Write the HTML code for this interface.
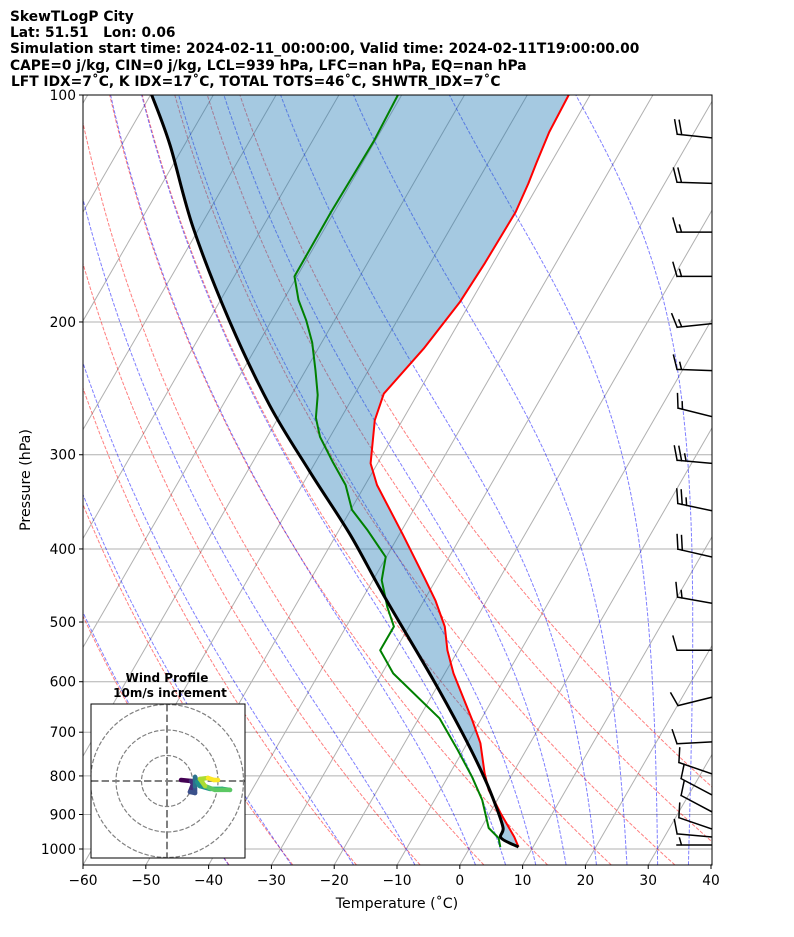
<!DOCTYPE html>
<html><head><meta charset="utf-8"><style>
body{margin:0;background:#fff;}
svg{display:block;font-family:"DejaVu Sans","Liberation Sans",sans-serif;}
</style></head><body>
<svg id="chart" xmlns="http://www.w3.org/2000/svg" width="794" height="937" viewBox="0 0 794 937">
<rect width="794" height="937" fill="#fff"/>
<g font-weight="bold" font-size="13.8" fill="#000">
<text x="10" y="21">SkewTLogP City</text>
<text x="10" y="37" xml:space="preserve">Lat: 51.51   Lon: 0.06</text>
<text x="10" y="53">Simulation start time: 2024-02-11_00:00:00, Valid time: 2024-02-11T19:00:00.00</text>
<text x="10" y="70">CAPE=0 j/kg, CIN=0 j/kg, LCL=939 hPa, LFC=nan hPa, EQ=nan hPa</text>
<text x="11" y="86">LFT IDX=7˚C, K IDX=17˚C, TOTAL TOTS=46˚C, SHWTR_IDX=7˚C</text>
</g>
<defs><clipPath id="pc"><rect x="83" y="95" width="629" height="770"/></clipPath>
<clipPath id="hc"><rect x="91" y="704" width="154" height="154"/></clipPath></defs>
<g id="plot" clip-path="url(#pc)"></g>
<g id="axes"></g>
<g id="hodo"></g>
</svg>
<script>
// ---- data ----
const tempP = [100,112,123,131,143,167,188,217,249,270,308,329,383,437,468,507,545,585,675,724,793,835,896,964,994];
const tempT = [-53.4,-53.1,-52.3,-51.7,-51.1,-51.3,-51.7,-53.2,-55.4,-54.4,-51.1,-48.1,-39.4,-32.0,-28.2,-24.3,-21.7,-18.6,-11.3,-7.9,-4.5,-2.3,1.7,6.1,7.7];
const dewP = [100,115,143,174,187,199,213,232,250,268,284,307,329,355,378,410,440,478,507,545,585,671,739,803,861,938,967,994];
const dewT = [-80.6,-80.2,-80.5,-80.4,-77.6,-74.5,-71.5,-68.4,-65.8,-64.0,-61.6,-57.2,-53.1,-49.8,-45.4,-40.1,-38.6,-35.2,-32.4,-32.4,-28.2,-16.7,-10.9,-6.1,-2.4,1.2,3.7,4.8];
const parcelP = [100,116.5,150,200,258,316,383,460,591,702,803,880,938,967,994];
const parcelT = [-119.8,-112.3,-101,-86.5,-72.5,-60,-47.8,-37,-21.8,-11.7,-4.2,0.5,3.5,4.1,7.7];
const barbP = [114,131,152,174,201,232,267,308,356,410,472,545,629,721,795,848,893,941,964,988];
const barbDir = [276,272,270,270,264,272,284,275,282,283,280,270,256,267,289,298,298,289,275,270];
const barbSpd = [20,20,15,15,15,15,15,25,25,20,15,10,10,10,10,10,10,10,10,5];
const hodoU = [5.5,9.4,10.2,9.0,11.0,11.0,11.0,11.8,12.9,16.9,21.6,24.7,18.8,14.9,12.9,16.1,18.4,20.0];
const hodoV = [0.4,0,-1.2,-4.3,-4.7,-2.0,1.6,-0.4,-2.0,-3.1,-3.1,-3.5,-3.5,-2.0,0.8,1.2,0.4,0.4];
const pTicks = [100,200,300,400,500,600,700,800,900,1000];
const tTicks = [-60,-50,-40,-30,-20,-10,0,10,20,30,40];
const dryT0 = [-40,-30,-20,-10,0,10,20,30,40,50];
const moistT0 = [-40,-30,-20,-10,0,5,10,15,20,25,30,35];

// ---- axes ----
const L=83,R=712,T=95,B=865;
function yOf(p){return 95+754*Math.log10(p/100);}
function xOf(t,p){return L+(t+60)*6.28+0.577*(B-yOf(p));}
const NS='http://www.w3.org/2000/svg';
function mk(tag,attrs,parent){const e=document.createElementNS(NS,tag);for(const k in attrs)e.setAttribute(k,attrs[k]);parent.appendChild(e);return e;}
const plot=document.getElementById('plot'),axes=document.getElementById('axes'),hodo=document.getElementById('hodo');
function pathPT(ps,ts){return ps.map((p,i)=>(i?'L':'M')+xOf(ts[i],p).toFixed(1)+','+yOf(p).toFixed(1)).join('');}
function smoothPT(ps,ts){
 const pts=ps.map((p,i)=>[xOf(ts[i],p),yOf(p)]);
 let d='M'+pts[0][0].toFixed(1)+','+pts[0][1].toFixed(1);
 for(let i=0;i<pts.length-1;i++){
  const p0=pts[Math.max(0,i-1)],p1=pts[i],p2=pts[i+1],p3=pts[Math.min(pts.length-1,i+2)];
  const c1=[p1[0]+(p2[0]-p0[0])/6,p1[1]+(p2[1]-p0[1])/6],c2=[p2[0]-(p3[0]-p1[0])/6,p2[1]-(p3[1]-p1[1])/6];
  d+='C'+c1[0].toFixed(1)+','+c1[1].toFixed(1)+' '+c2[0].toFixed(1)+','+c2[1].toFixed(1)+' '+p2[0].toFixed(1)+','+p2[1].toFixed(1);
 }
 return d;
}

for(let t=-200;t<=40;t+=10){
 const e=mk('line',{x1:xOf(t,1050),y1:B,x2:xOf(t,100),y2:T,stroke:'#b0b0b0','stroke-width':1},plot);
 
 
}
pTicks.forEach(p=>{
 const e=mk('line',{x1:L,x2:R,y1:yOf(p),y2:yOf(p),stroke:'#b0b0b0','stroke-width':1},plot);
 
 
});
const plev=[];for(let p=1050;p>=100;p-=5)plev.push(p);
dryT0.forEach(t0=>{
 const th=t0+273.15;
 const ts=plev.map(p=>th*Math.pow(p/1000,0.2857)-273.15);
 const e=mk('path',{d:pathPT(plev,ts),fill:'none',stroke:'red','stroke-opacity':0.5,'stroke-width':1,'stroke-dasharray':'3.7,1.6'},plot);
 
 
});
function dTdp(p,Tk){const tc=Tk-273.15;const es=6.112*Math.exp(17.67*tc/(tc+243.5));const rs=0.622*es/(p-es);
 return (287.04*Tk+2.501e6*rs)/(1005.7+2.501e6*2.501e6*rs*0.622/(287.04*Tk*Tk))/p;}
moistT0.forEach(t0=>{
 const ps=[],ts=[];
 let Tk=t0+273.15;
 let T2=Tk;for(let p=1000;p<1050;p+=5){const k1=dTdp(p,T2);const k2=dTdp(p+5,T2+5*k1);T2+=2.5*(k1+k2);}
 ps.push(1050);ts.push(T2-273.15);
 for(let p=1050;p>1000;p-=5){const k1=dTdp(p,T2);const k2=dTdp(p-5,T2-5*k1);T2-=2.5*(k1+k2);ps.push(p-5);ts.push(T2-273.15);}
 T2=Tk;
 for(let p=1000;p>100;p-=5){const k1=dTdp(p,T2);const k2=dTdp(p-5,T2-5*k1);T2-=2.5*(k1+k2);ps.push(p-5);ts.push(T2-273.15);}
 const e=mk('path',{d:pathPT(ps,ts),fill:'none',stroke:'blue','stroke-opacity':0.5,'stroke-width':1,'stroke-dasharray':'3.7,1.6'},plot);
 
 
});
{
 const rp=parcelP.slice().reverse(),rt=parcelT.slice().reverse();
 const d=pathPT(tempP,tempT)+smoothPT(rp,rt).replace(/^M/,'L')+'Z';
 const e=mk('path',{d:d,fill:'#1f77b4','fill-opacity':0.4,stroke:'none'},plot);
 
 
}
{
 let e=mk('path',{d:pathPT(tempP,tempT),fill:'none',stroke:'red','stroke-width':2,'stroke-linejoin':'round'},plot);
 
 
 e=mk('path',{d:pathPT(dewP,dewT),fill:'none',stroke:'green','stroke-width':2,'stroke-linejoin':'round'},plot);
 
 
 e=mk('path',{d:smoothPT(parcelP,parcelT),fill:'none',stroke:'black','stroke-width':3,'stroke-linejoin':'round'},plot);
 
 
}
barbP.forEach((p,i)=>{
 const g=mk('g',{stroke:'#000','stroke-width':1.5,fill:'none','stroke-linecap':'square'},plot);
 
 
 const d=barbDir[i]*Math.PI/180, Ls=35;
 const ax=Math.sin(d), ay=-Math.cos(d);
 const x0=R,y0=yOf(p),x1=x0+ax*Ls,y1=y0+ay*Ls;
 const px=-ay, py=ax;
 let dd='M'+x0+','+y0.toFixed(1)+'L'+x1.toFixed(1)+','+y1.toFixed(1);
 let s=barbSpd[i],pos=0;
 const nf=Math.floor(s/10),nh=(s%10)>=5?1:0;
 if(nf===0)pos=1;
 for(let k=0;k<nf+nh;k++){
  const len=k<nf?14:7;
  const bx=x1-ax*pos*4.5,by=y1-ay*pos*4.5;
  const fx=len===14?1:0.5;
  dd+='M'+bx.toFixed(1)+','+by.toFixed(1)+'L'+(bx+px*len+ax*4*fx).toFixed(1)+','+(by+py*len+ay*4*fx).toFixed(1);
  pos++;
 }
 const e=mk('path',{d:dd},g);
 
 
});
{
 let e=mk('rect',{x:L,y:T,width:R-L,height:B-T,fill:'none',stroke:'#000','stroke-width':1},axes);
 
 
 pTicks.forEach(p=>{
  const y=yOf(p);
  let t=mk('line',{x1:L-4,x2:L,y1:y,y2:y,stroke:'#000'},axes);
  
  
  t=mk('text',{x:L-7,y:y+5,'text-anchor':'end','font-size':13.8},axes);
  t.textContent=p;
  
  
 });
 tTicks.forEach(tc=>{
  const x=xOf(tc,1050);
  let t=mk('line',{x1:x,x2:x,y1:B,y2:B+4,stroke:'#000'},axes);
  
  
  t=mk('text',{x:x,y:B+20,'text-anchor':'middle','font-size':13.8},axes);
  t.textContent=(tc<0?'\u2212'+(-tc):tc);
  
  
 });
 let t=mk('text',{x:397,y:908,'text-anchor':'middle','font-size':14.2},axes);
 t.textContent='Temperature (˚C)';
 
 
 t=mk('text',{x:30,y:480,'text-anchor':'middle','font-size':14.2,transform:'rotate(-90 30 480)'},axes);
 t.textContent='Pressure (hPa)';
 
 
}
{
 const cx=167,cy=781,sc=2.55;
 let e=mk('rect',{x:91,y:704,width:154,height:154,fill:'#fff',stroke:'none'},hodo);
 
 
 const gi=mk('g',{'clip-path':'url(#hc)'},hodo);
 
 
 [10,20,30].forEach(r=>{
  const c=mk('circle',{cx:cx,cy:cy,r:r*sc,fill:'none',stroke:'#808080','stroke-width':1.2,'stroke-dasharray':'4.4,1.9'},gi);
  
  
 });
 e=mk('line',{x1:91,x2:245,y1:cy,y2:cy,stroke:'#808080','stroke-width':2,'stroke-dasharray':'7.4,3.2'},gi);
 
 
 e=mk('line',{x1:cx,x2:cx,y1:704,y2:858,stroke:'#808080','stroke-width':2,'stroke-dasharray':'7.4,3.2'},gi);
 
 
 const vir=['#440154','#472c7a','#3b518b','#2c718e','#21908d','#27ad81','#5cc863','#aadc32','#fde725'];
 const n=hodoU.length;
 for(let i=0;i<n-1;i++){
  const f=i/(n-2);const col=vir[Math.min(8,Math.round(f*8))];
  const s=mk('line',{x1:cx+hodoU[i]*sc,y1:cy-hodoV[i]*sc,x2:cx+hodoU[i+1]*sc,y2:cy-hodoV[i+1]*sc,stroke:col,'stroke-width':4.5,'stroke-linecap':'round'},gi);
  
  
 }
 e=mk('rect',{x:91,y:704,width:154,height:154,fill:'none',stroke:'#000','stroke-width':1},hodo);
 
 
 e=mk('text',{x:167,y:682,'text-anchor':'middle','font-size':12,'font-weight':'bold'},hodo);
 e.textContent='Wind Profile';
 
 
 e=mk('text',{x:170,y:697,'text-anchor':'middle','font-size':12,'font-weight':'bold'},hodo);
 e.textContent='10m/s increment';
 
 
}
</script>
</body></html>
